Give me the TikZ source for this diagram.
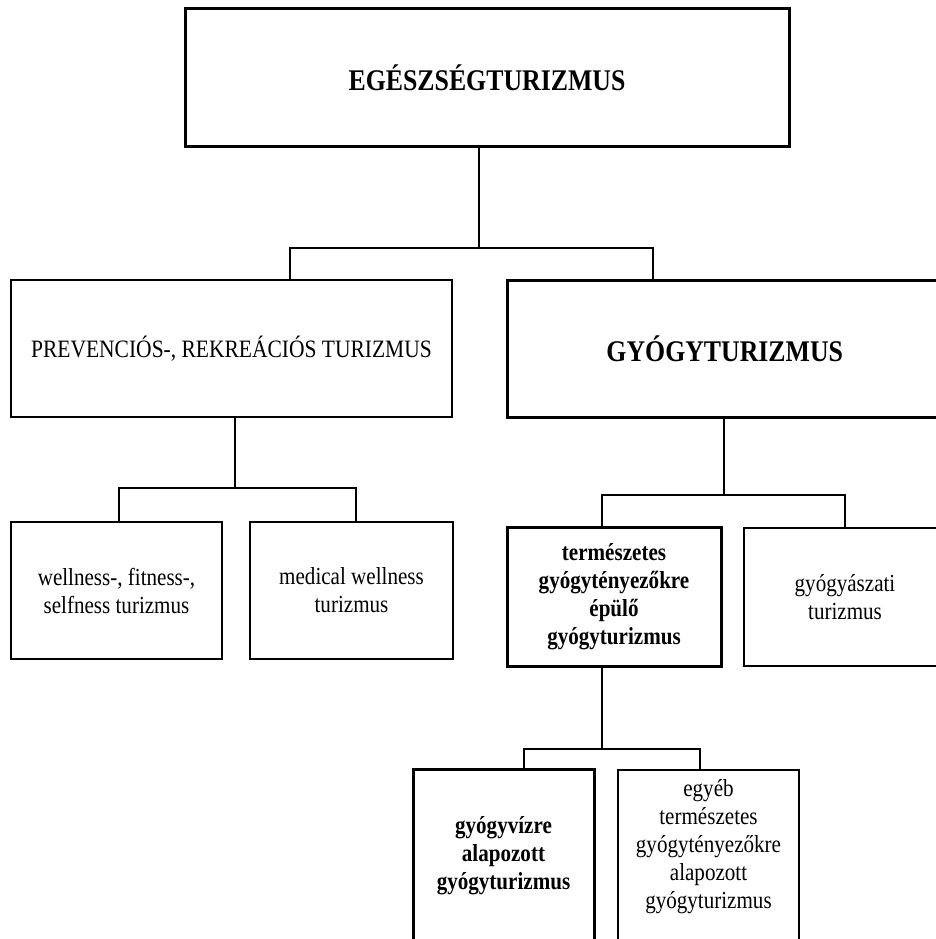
\documentclass[tikz,border=0pt]{standalone}
\usepackage{fontspec}
\setmainfont{Liberation Serif}[FakeStretch=0.86]
\begin{document}
\begin{tikzpicture}[x=1pt,y=-1pt,
  box/.style={draw=black, line width=1.3pt, rectangle, inner sep=0pt, align=center,
    font=\fontsize{24.5}{28}\selectfont},
  thickbox/.style={box, line width=3pt},
  boldtxt/.style={font=\fontsize{24.5}{28}\selectfont\bfseries},
  bigtxt/.style={font=\fontsize{30}{34}\selectfont\bfseries},
  txt/.style={inner sep=0pt, align=center, font=\fontsize{24.5}{28}\selectfont},
  conn/.style={line width=1.3pt, line join=miter}
]
\useasboundingbox (0,0) rectangle (936,939);
\clip (0,0) rectangle (936,939);

% level 0
\node[thickbox, bigtxt, minimum width=604pt, minimum height=137pt] (top) at (487,77.5) {EGÉSZSÉGTURIZMUS};

% level 1
\node[box, minimum width=441pt, minimum height=137pt, font=\fontsize{25}{29}\selectfont] (prev) at (231.5,348.5) {PREVENCIÓS-, REKREÁCIÓS TURIZMUS};
\node[thickbox, bigtxt, minimum width=434.5pt, minimum height=137pt] (gy) at (724.75,348.5) {GYÓGYTURIZMUS};

% level 2 left
\node[box, minimum width=211pt, minimum height=137pt] (wel) at (116.5,590.5) {wellness-, fitness-,\\selfness turizmus};
\node[box, minimum width=203pt, minimum height=137pt] (med) at (351.5,590.5) {medical wellness\\turizmus};

% level 2 right
\node[thickbox, boldtxt, minimum width=214pt, minimum height=139pt] (ter) at (614,597) {természetes\\gyógytényezőkre\\épülő\\gyógyturizmus};
\node[box, minimum width=202pt, minimum height=138pt] (gyasz) at (845,597) {gyógyászati\\turizmus};

% level 3
\node[thickbox, boldtxt, minimum width=181pt, minimum height=173pt] (viz) at (503.5,855.5) {gyógyvízre\\alapozott\\gyógyturizmus};
\node[box, minimum width=181pt, minimum height=190pt] (eb) at (708.5,865) {};
\node[txt] (ebt) at (708.5,847) {egyéb\\természetes\\gyógytényezőkre\\alapozott\\gyógyturizmus};

% connectors
\coordinate (t0) at (479,248);
\coordinate (b1) at (290,248);
\coordinate (b2) at (653,248);
\draw[conn] (t0 |- top.south) -- (t0);
\draw[conn] (b1 |- prev.north) -- (b1) -- (b2) -- (b2 |- gy.north);

\coordinate (l0) at (235,488);
\coordinate (lA) at (119,488);
\coordinate (lB) at (356,488);
\draw[conn] (l0 |- prev.south) -- (l0);
\draw[conn] (lA |- wel.north) -- (lA) -- (lB) -- (lB |- med.north);

\coordinate (r0) at (724,495);
\coordinate (rA) at (602,495);
\coordinate (rB) at (845,495);
\draw[conn] (r0 |- gy.south) -- (r0);
\draw[conn] (rA |- ter.north) -- (rA) -- (rB) -- (rB |- gyasz.north);

\coordinate (d0) at (602,749);
\coordinate (dA) at (524,749);
\coordinate (dB) at (700,749);
\draw[conn] (d0 |- ter.south) -- (d0);
\draw[conn] (dA |- viz.north) -- (dA) -- (dB) -- (dB |- eb.north);
\end{tikzpicture}
\end{document}
